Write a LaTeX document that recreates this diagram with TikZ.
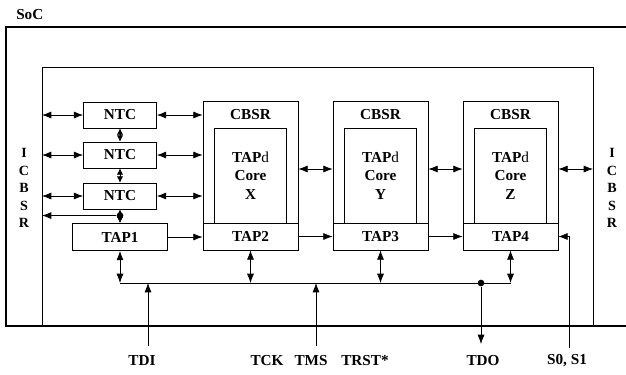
\documentclass[tikz,border=0pt]{standalone}
\usepackage{fontspec}
\setmainfont{Liberation Serif}
\usetikzlibrary{arrows.meta,calc}

\tikzset{
    >={Latex[length=2.8mm,width=2.1mm]},
    every node/.style={font=\bfseries\fontsize{13}{16}\selectfont},
    ntc/.style={draw, minimum width=21.9mm, minimum height=7.8mm, inner sep=0pt},
    tap/.style={draw, minimum width=28.5mm, minimum height=8.1mm, inner sep=0pt},
    cbsr/.style={draw, minimum width=28.5mm, minimum height=36.6mm, inner sep=0pt,
        label={[anchor=north, inner sep=0pt, yshift=-2.4mm]north:CBSR}},
    core/.style={draw, minimum width=21.6mm, minimum height=28.5mm, align=center, inner sep=0pt},
    sig/.style={inner sep=1pt},
    ring/.style={align=center, font=\bfseries\fontsize{12}{15}\selectfont},
    dot/.style={circle, fill, inner sep=0pt, minimum size=2mm},
    link/.style={{Latex[length=1.9mm,width=1.9mm]}-{Latex[length=1.9mm,width=1.9mm]}},
}

\begin{document}
\begin{tikzpicture}[x=0.3mm, y=-0.3mm, line width=0.6pt]
    \useasboundingbox (0,0) rectangle (626,374);

    % --- SoC (cadre exterieur) ---
    \draw[line width=1pt] (626,27) -- (6,27) -- (6,326) -- (626,326);
    \node[anchor=west] (soc) at (12,15) {SoC};

    % --- Anneau ICBSR ---
    \coordinate (wallL) at (42,67);
    \coordinate (wallR) at (593,67);
    \draw (42,326) -- (wallL) -- (wallR) -- (593,326);
    \node[ring] (icbsrL) at (24,188) {I\\C\\B\\S\\R};
    \node[ring] (icbsrR) at (612,188) {I\\C\\B\\S\\R};

    % --- Colonne NTC + TAP1 ---
    \node[ntc] (ntcA) at (120,115) {NTC};
    \node[ntc] (ntcB) at (120,155) {NTC};
    \node[ntc] (ntcC) at (120,196) {NTC};
    \node[tap] (tapA) at (120,237) {TAP1};

    % --- Coeurs X, Y, Z ---
    \node[cbsr] (cbsrX) at (250.5,162) {};
    \node[core] (coreX) at (250.5,175.5) {TAP{\mdseries d}\\Core\\X};
    \node[tap]  (tapB)  at (250.5,236.5) {TAP2};

    \node[cbsr] (cbsrY) at (380.5,162) {};
    \node[core] (coreY) at (380.5,175.5) {TAP{\mdseries d}\\Core\\Y};
    \node[tap]  (tapC)  at (380.5,236.5) {TAP3};

    \node[cbsr] (cbsrZ) at (510.5,162) {};
    \node[core] (coreZ) at (510.5,175.5) {TAP{\mdseries d}\\Core\\Z};
    \node[tap]  (tapD)  at (510.5,236.5) {TAP4};

    % --- Liaisons NTC ---
    \draw[<->] (wallL |- ntcA) -- (ntcA);
    \draw[<->] (wallL |- ntcB) -- (ntcB);
    \draw[<->] (wallL |- ntcC) -- (ntcC);
    \draw[<->] (ntcA) -- (cbsrX.west |- ntcA);
    \draw[<->] (ntcB) -- (cbsrX.west |- ntcB);
    \draw[<->] (ntcC) -- (cbsrX.west |- ntcC);
    \draw[link] (ntcA) -- (ntcB);
    \draw[link] (ntcB) -- (ntcC);
    \draw[link] (ntcC) -- (tapA);
    \node[dot] (jnA) at ($(ntcC.south)!0.45!(tapA.north)$) {};
    \draw[->] (jnA) -- (wallL |- jnA);

    % --- Liaisons entre coeurs ---
    \coordinate (row) at (0,169);
    \draw[<->] (cbsrX.east |- row) -- (cbsrY.west |- row);
    \draw[<->] (cbsrY.east |- row) -- (cbsrZ.west |- row);
    \draw[<->] (cbsrZ.east |- row) -- (wallR |- row);

    % --- Chaine des TAP ---
    \draw[->] (tapA.east) -- (tapB.west |- tapA.east);
    \draw[->] (tapB) -- (tapC);
    \draw[->] (tapC) -- (tapD);

    % --- Bus de test ---
    \coordinate (busL) at (120,283);
    \coordinate (busR) at (510.5,283);
    \draw (busL) -- (busR);
    \draw[<->] (tapA) -- (tapA |- busL);
    \draw[<->] (tapB) -- (tapB |- busL);
    \draw[<->] (tapC) -- (tapC |- busL);
    \draw[<->] (tapD) -- (tapD |- busL);

    % --- Broches ---
    \node[sig] (tdi)  at (142,361) {TDI};
    \node[sig] (tck)  at (267,361) {TCK};
    \node[sig] (tms)  at (311,361) {TMS};
    \node[sig] (trst) at (365,361) {TRST*};
    \node[sig] (tdo)  at (483,361) {TDO};
    \node[sig] (sel)  at (567,361) {S0, S1};

    \coordinate (inTDI) at (148,346);
    \coordinate (inTMS) at (316,346);
    \coordinate (outTDO) at (481,344);
    \coordinate (inSEL) at (569,348);
    \draw[->] (inTDI) -- (inTDI |- busL);
    \draw[->] (inTMS) -- (inTMS |- busL);
    \node[dot] (jnB) at (outTDO |- busL) {};
    \draw[->] (jnB) -- (outTDO);
    \draw[->] (inSEL) |- (tapD.east);

\end{tikzpicture}
\end{document}
